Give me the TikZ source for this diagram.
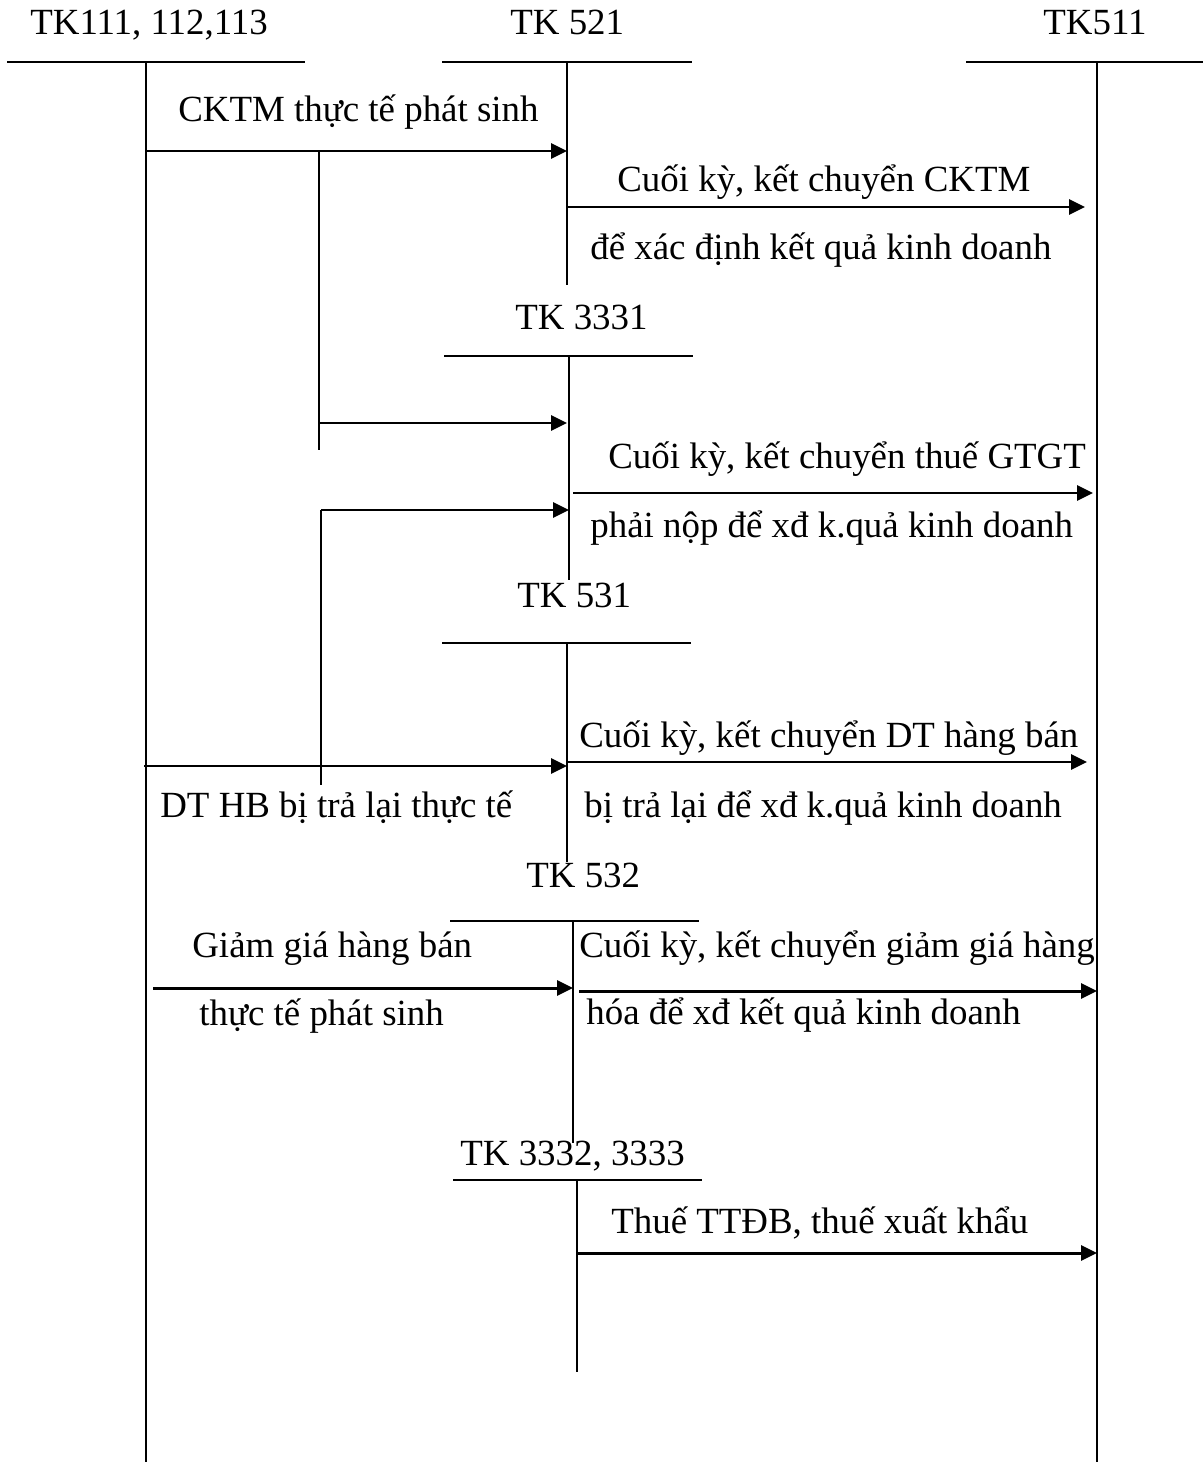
\documentclass[tikz,border=0pt]{standalone}
\usepackage{fontspec}
\setmainfont{Liberation Serif}
\usetikzlibrary{arrows.meta}

\begin{document}
\begin{tikzpicture}[x=0.02cm,y=-0.02cm,>={Triangle[length=0.32cm,width=0.3cm]},
  font=\fontsize{21}{25}\selectfont,
  lbl/.style={anchor=base west,inner sep=0pt},
  acc/.style={line width=0.9pt},
  flow/.style={->,line width=1.7pt}]
\useasboundingbox (0,0) rectangle (1203,1462);
\node[lbl] (t111) at (30,35) {TK111, 112,113};
\node[lbl] (t521) at (510,35) {TK 521};
\node[lbl] (t511) at (1043,35) {TK511};
\node[lbl] (t3331) at (515,330) {TK 3331};
\node[lbl] (t531) at (517,607) {TK 531};
\node[lbl] (t532) at (526,887) {TK 532};
\node[lbl] (t3332) at (460,1165) {TK 3332, 3333};
\draw[acc] (7,62) -- (305,62);
\draw[acc] (146,62) -- (146,1462);
\draw[acc] (442,62) -- (692,62);
\draw[acc] (567,62) -- (567,285);
\draw[acc] (966,62) -- (1203,62);
\draw[acc] (1097,62) -- (1097,1462);
\draw[acc] (444,356) -- (693,356);
\draw[acc] (569,356) -- (569,580);
\draw[acc] (442,643) -- (691,643);
\draw[acc] (567,643) -- (567,862);
\draw[acc] (450,921) -- (699,921);
\draw[acc] (573,921) -- (573,1143);
\draw[acc] (453,1180) -- (702,1180);
\draw[acc] (577,1180) -- (577,1372);
\draw[acc] (319,151) -- (319,450);
\draw[acc] (321,510) -- (321,785);
\node[lbl] (n1) at (178,122) {CKTM thực tế phát sinh};
\node[lbl] (n2) at (617,192) {Cuối kỳ, kết chuyển CKTM};
\node[lbl] (n3) at (590,260) {để xác định kết quả kinh doanh};
\node[lbl] (n4) at (608,468) {Cuối kỳ, kết chuyển thuế GTGT};
\node[lbl] (n5) at (590,537) {phải nộp để xđ k.quả kinh doanh};
\node[lbl] (n6) at (579,747) {Cuối kỳ, kết chuyển DT hàng bán};
\node[lbl] (n7) at (160,817) {DT HB bị trả lại thực tế};
\node[lbl] (n8) at (584,817) {bị trả lại để xđ k.quả kinh doanh};
\node[lbl] (n9) at (192,957) {Giảm giá hàng bán};
\node[lbl] (n10) at (579,957) {Cuối kỳ, kết chuyển giảm giá hàng};
\node[lbl] (n11) at (199,1025) {thực tế phát sinh};
\node[lbl] (n12) at (586,1024) {hóa để xđ kết quả kinh doanh};
\node[lbl] (n13) at (611,1233) {Thuế TTĐB, thuế xuất khẩu};
\coordinate (a1s) at (146,151);  \coordinate (a1e) at (567,151);
\coordinate (a2s) at (567,207);  \coordinate (a2e) at (1085,207);
\coordinate (a3s) at (319,423);  \coordinate (a3e) at (567,423);
\coordinate (a4s) at (573,493);  \coordinate (a4e) at (1093,493);
\coordinate (a5s) at (321,510);  \coordinate (a5e) at (569,510);
\coordinate (a6s) at (144,766);  \coordinate (a6e) at (567,766);
\coordinate (a7s) at (567,762);  \coordinate (a7e) at (1087,762);
\coordinate (a8s) at (153,988);  \coordinate (a8e) at (573,988);
\coordinate (a9s) at (579,991);  \coordinate (a9e) at (1097,991);
\coordinate (a10s) at (577,1253); \coordinate (a10e) at (1097,1253);
\draw[flow] (a1s) -- (a1e);
\draw[flow] (a2s) -- (a2e);
\draw[flow] (a3s) -- (a3e);
\draw[flow] (a4s) -- (a4e);
\draw[flow] (a5s) -- (a5e);
\draw[flow] (a6s) -- (a6e);
\draw[flow] (a7s) -- (a7e);
\draw[flow] (a8s) -- (a8e);
\draw[flow] (a9s) -- (a9e);
\draw[flow] (a10s) -- (a10e);
\end{tikzpicture}
\end{document}
